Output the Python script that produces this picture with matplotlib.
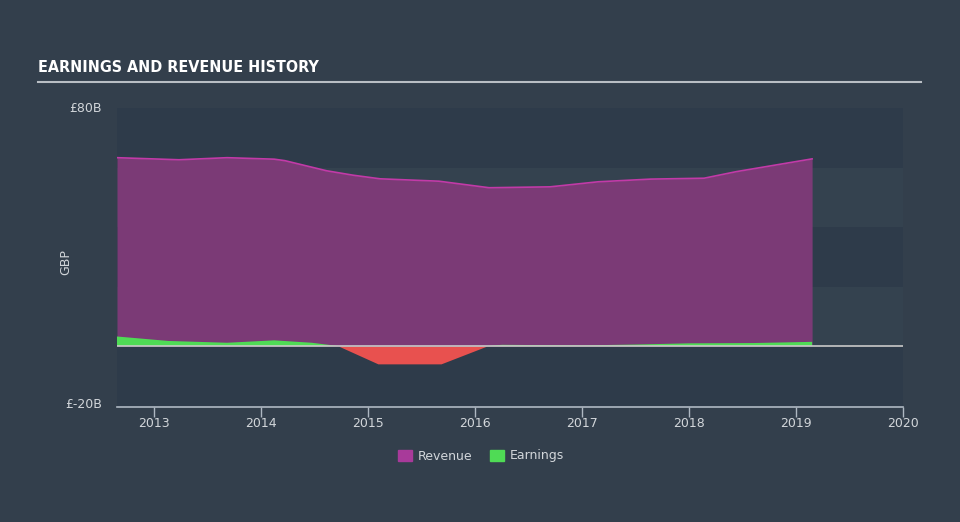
import numpy as np
import matplotlib
matplotlib.use("Agg")
from matplotlib import pyplot as plt
from matplotlib.patches import Patch

# values, in billions of GBP
rev_years = [2012.65, 2013.23, 2013.68, 2014.12, 2014.22, 2014.61, 2014.86, 2015.11,
             2015.66, 2016.13, 2016.70, 2017.15, 2017.64, 2018.14, 2018.44, 2019.15]
revenue = [63.3, 62.6, 63.3, 62.8, 62.3, 58.9, 57.4, 56.2,
           55.4, 53.2, 53.5, 55.2, 56.1, 56.4, 58.6, 62.9]

earn_years = [2012.65, 2013.13, 2013.68, 2014.12, 2014.47, 2014.72, 2015.09, 2015.68,
              2016.11, 2016.25, 2017.0, 2017.5, 2018.0, 2018.6, 2019.15]
earnings = [3.2, 1.7, 1.1, 1.9, 1.1, 0.0, -6.0, -6.0,
            0.0, 0.4, 0.2, 0.5, 0.9, 1.0, 1.4]

year_ticks = [2013, 2014, 2015, 2016, 2017, 2018, 2019, 2020]

BG = "#333f4c"
BAND_DARK = "#2e3b4a"
BAND_LIGHT = "#34424f"
TXT = "#d2d6da"
REV_FILL = "#7b3a76"
REV_LINE = "#c23aa8"
GREEN = "#4fdb55"
RED = "#e8514f"

fig = plt.figure(figsize=(9.6, 5.22), dpi=100, facecolor=BG)
ax = fig.add_axes([117 / 960, 115 / 522, 786 / 960, 299 / 522])
ax.set_facecolor(BG)

# alternating horizontal bands
for i, lo in enumerate(range(-20, 80, 20)):
    ax.axhspan(lo, lo + 20, color=BAND_DARK if i % 2 == 0 else BAND_LIGHT, lw=0, zorder=0)

ax.fill_between(rev_years, 0, revenue, color=REV_FILL, lw=0, zorder=2)
ax.plot(rev_years, revenue, color=REV_LINE, lw=1.2, zorder=3)

ex = np.array(earn_years)
ey = np.array(earnings)
ax.fill_between(ex, 0, ey, where=ey >= 0, interpolate=True, color=GREEN, lw=0, zorder=4)
ax.fill_between(ex, 0, ey, where=ey <= 0, interpolate=True, color=RED, lw=0, zorder=4)

ax.axhline(0, xmin=0, xmax=1, color="#c9c9c9", lw=1.2, zorder=5)

ax.set_xlim(2012.65, 2020.0)
ax.set_ylim(-20.5, 80)

for s in ["top", "right", "left"]:
    ax.spines[s].set_visible(False)
ax.spines["bottom"].set_color("#aeb8c2")
ax.spines["bottom"].set_linewidth(1.2)

ax.set_xticks(year_ticks)
ax.set_xticklabels([str(y) for y in year_ticks])
ax.tick_params(axis="x", colors="#aeb8c2", labelcolor=TXT, length=7, width=1, labelsize=9, pad=0)
ax.set_yticks([])

fig.text(102 / 960, 1 - 108 / 522, "£80B", color=TXT, fontsize=9, ha="right", va="center")
fig.text(102 / 960, 1 - 405 / 522, "£-20B", color=TXT, fontsize=9, ha="right", va="center")
fig.text(66 / 960, 1 - 262 / 522, "GBP", color=TXT, fontsize=9, rotation=90, ha="center", va="center")

fig.text(38 / 960, 1 - 68 / 522, "EARNINGS AND REVENUE HISTORY", color="white", fontsize=11.5,
         fontweight="bold", fontstretch="condensed", family="DejaVu Sans",
         ha="left", va="center")
fig.add_artist(plt.Line2D([38 / 960, 921 / 960], [1 - 82 / 522, 1 - 82 / 522],
                          color="#b9bec4", lw=1.5))

handles = [Patch(color="#a83a9a", label="Revenue"), Patch(color=GREEN, label="Earnings")]
fig.legend(handles=handles, loc="center", bbox_to_anchor=(481 / 960, 1 - 456 / 522), ncol=2,
           frameon=False, fontsize=9, labelcolor=TXT, handlelength=1.1, handleheight=1.0,
           columnspacing=1.4, handletextpad=0.5)

fig.savefig("out.png", dpi=100, facecolor=BG)
